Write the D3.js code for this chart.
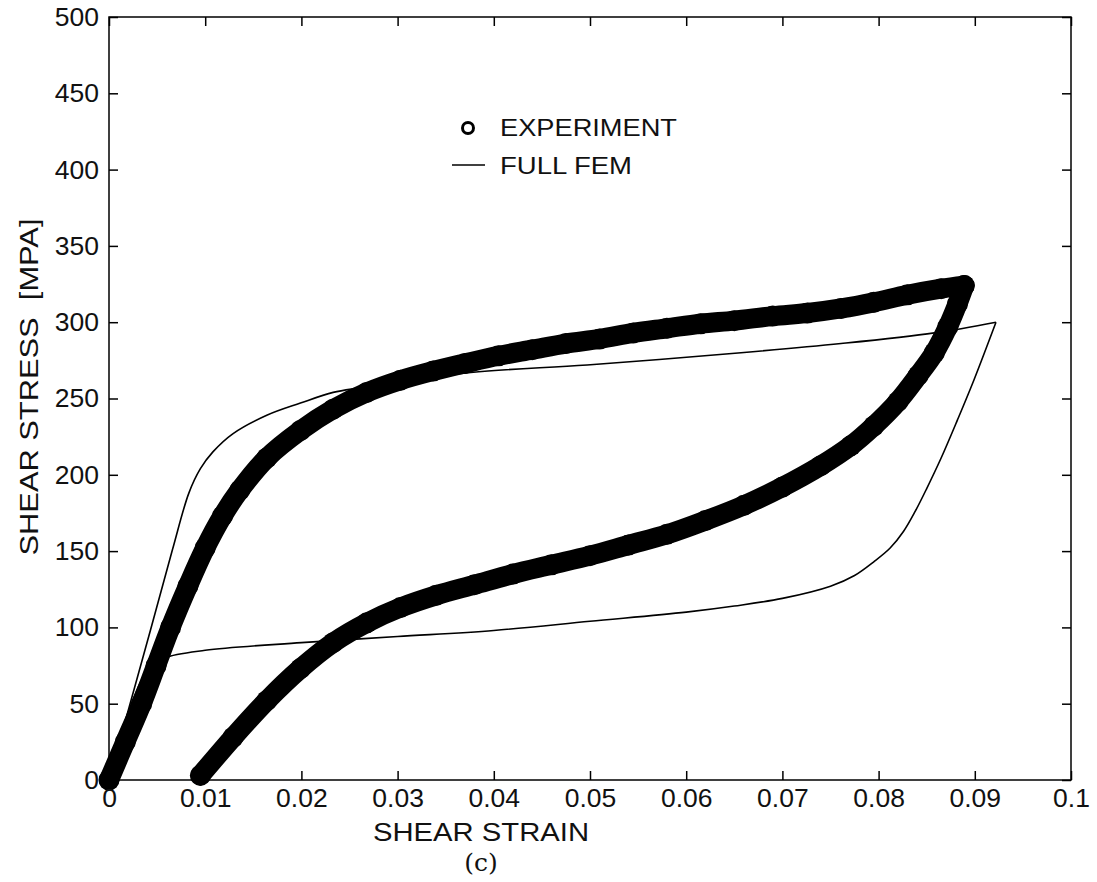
<!DOCTYPE html>
<html>
<head>
<meta charset="utf-8">
<script src="https://cdn.jsdelivr.net/npm/d3@7"></script>
<style>
  html, body { margin: 0; padding: 0; background: #fff; }
  svg { display: block; }
  text { font-family: "Liberation Sans", Arial, Helvetica, sans-serif; fill: #111; }
</style>
</head>
<body>
<svg id="chart" width="1097" height="882"></svg>
<script>
// ---- data ----
const xTicks = [0, 0.01, 0.02, 0.03, 0.04, 0.05, 0.06, 0.07, 0.08, 0.09, 0.1];
const xTickLabels = ["0", "0.01", "0.02", "0.03", "0.04", "0.05", "0.06", "0.07", "0.08", "0.09", "0.1"];
const yTicks = [0, 50, 100, 150, 200, 250, 300, 350, 400, 450, 500];
const yTickLabels = ["0", "50", "100", "150", "200", "250", "300", "350", "400", "450", "500"];

// Experiment: loading branch
const expLoadStrain = [0, 0.0017, 0.0034, 0.0049, 0.0064, 0.0082, 0.0100, 0.0118, 0.0136, 0.0164, 0.0199, 0.0233, 0.0268, 0.0303, 0.0337, 0.0370, 0.0405, 0.0440, 0.0475, 0.0510, 0.0545, 0.0580, 0.0615, 0.0650, 0.0690, 0.0726, 0.0761, 0.0795, 0.0830, 0.0865, 0.0889];
const expLoadStress = [0, 25, 50, 75, 100, 127, 152, 173, 190, 211, 229, 243, 254, 262, 268, 273, 278, 282, 286, 289, 293, 296, 299, 301, 304, 306, 309, 313, 318, 322, 324];
// Experiment: unloading branch
const expUnloadStrain = [0.0889, 0.0882, 0.0872, 0.0858, 0.0841, 0.0820, 0.0795, 0.0771, 0.0740, 0.0700, 0.0660, 0.0620, 0.0580, 0.0540, 0.0500, 0.0460, 0.0420, 0.0380, 0.0340, 0.0303, 0.0268, 0.0233, 0.0199, 0.0164, 0.0129, 0.0095];
const expUnloadStress = [324, 312, 297, 280, 265, 248, 232, 219, 206, 192, 180, 170, 161, 154, 147, 141, 135, 128, 121, 113, 103, 90, 73, 52, 28, 3];

// Full FEM: loading branch
const femLoadStrain = [0, 0.0043, 0.0066, 0.0083, 0.0095, 0.0108, 0.0129, 0.0164, 0.0199, 0.0233, 0.0261, 0.0376, 0.0497, 0.0657, 0.0761, 0.0858, 0.0922];
const femLoadStress = [0, 98, 151, 188, 204, 215, 227, 239, 247, 254, 257, 267, 272, 280, 286, 293, 300];
// Full FEM: unloading branch
const femUnloadStrain = [0.0922, 0.0899, 0.0882, 0.0865, 0.0850, 0.0838, 0.0826, 0.0812, 0.0795, 0.0775, 0.0750, 0.0700, 0.0650, 0.0600, 0.0500, 0.0400, 0.0300, 0.0200, 0.0100, 0.0058, 0.0045, 0.0037, 0.0017, 0];
const femUnloadStress = [300, 262, 236, 211, 191, 176, 163, 152, 143, 134, 127, 119, 114, 110, 104, 98, 94, 90, 85, 80, 74, 69, 39, 0];

const legendLabels = ["EXPERIMENT", "FULL FEM"];

// ---- layout ----
const L = 109, R = 1071, T = 17, B = 780;
const svg = d3.select("#chart");
const x = d3.scaleLinear().domain([0, 0.1]).range([L, R]);
const y = d3.scaleLinear().domain([0, 500]).range([B, T]);

const zip = (a, b) => a.map((s, i) => [s, b[i]]);
const expLoad = zip(expLoadStrain, expLoadStress);
const expUnload = zip(expUnloadStrain, expUnloadStress);
const femLoad = zip(femLoadStrain, femLoadStress);
const femUnload = zip(femUnloadStrain, femUnloadStress);

const line = d3.line().x(d => x(d[0])).y(d => y(d[1])).curve(d3.curveCatmullRom.alpha(0.5));

// experiment: thick band of overlapping markers
[expLoad, expUnload].forEach(pts => {
  svg.append("path").attr("d", line(pts))
    .attr("fill", "none").attr("stroke", "#000").attr("stroke-width", 20)
    .attr("stroke-linejoin", "round").attr("stroke-linecap", "round");
  svg.append("g").selectAll("circle").data(pts).join("circle")
    .attr("cx", d => x(d[0])).attr("cy", d => y(d[1])).attr("r", 10.5).attr("fill", "#000");
});

// FEM line
[femLoad, femUnload].forEach(pts => {
  svg.append("path").attr("d", line(pts))
    .attr("fill", "none").attr("stroke", "#000").attr("stroke-width", 1.6)
    .attr("stroke-linejoin", "miter");
});

// axes
const fs = 26.5;
const gx = svg.append("g").attr("transform", `translate(0,${B})`)
  .call(d3.axisBottom(x).tickValues(xTicks).tickFormat((d, i) => xTickLabels[i]).tickSizeInner(-9).tickSizeOuter(0).tickPadding(8));
const gy = svg.append("g").attr("transform", `translate(${L},0)`)
  .call(d3.axisLeft(y).tickValues(yTicks).tickFormat((d, i) => yTickLabels[i]).tickSizeInner(-9).tickSizeOuter(0).tickPadding(10));
const gt = svg.append("g").attr("transform", `translate(0,${T})`)
  .call(d3.axisTop(x).tickValues(xTicks).tickFormat("").tickSizeInner(-9).tickSizeOuter(0));
const gr = svg.append("g").attr("transform", `translate(${R},0)`)
  .call(d3.axisRight(y).tickValues(yTicks).tickFormat("").tickSizeInner(-9).tickSizeOuter(0));
[gx, gy, gt, gr].forEach(g => {
  g.select(".domain").remove();
  g.selectAll("line").attr("stroke", "#000").attr("stroke-width", 1.5);
  g.selectAll("text").attr("font-size", fs).attr("font-family", '"Liberation Sans", Arial, sans-serif').attr("fill", "#111");
});
svg.append("rect").attr("x", L).attr("y", T).attr("width", R - L).attr("height", B - T)
  .attr("fill", "none").attr("stroke", "#000").attr("stroke-width", 1.5);

// axis titles
svg.append("text").attr("x", 481).attr("y", 841).attr("text-anchor", "middle")
  .attr("font-size", 25).attr("textLength", 216).attr("lengthAdjust", "spacingAndGlyphs")
  .text("SHEAR STRAIN");
svg.append("text").attr("transform", "translate(38,387) rotate(-90)").attr("text-anchor", "middle")
  .attr("font-size", 25).attr("textLength", 337).attr("lengthAdjust", "spacingAndGlyphs")
  .attr("xml:space", "preserve")
  .text("SHEAR STRESS  [MPA]");
svg.append("text").attr("x", 481).attr("y", 871).attr("text-anchor", "middle")
  .style("font-family", '"DejaVu Serif", "Liberation Serif", serif')
  .attr("font-size", 25).text("(c)");

// legend
svg.append("circle").attr("cx", 468).attr("cy", 128).attr("r", 5.5)
  .attr("fill", "none").attr("stroke", "#000").attr("stroke-width", 3);
svg.append("text").attr("x", 500).attr("y", 136).attr("font-size", 23)
  .attr("textLength", 177).attr("lengthAdjust", "spacingAndGlyphs").text(legendLabels[0]);
svg.append("line").attr("x1", 452).attr("x2", 485).attr("y1", 165).attr("y2", 165)
  .attr("stroke", "#000").attr("stroke-width", 1.6);
svg.append("text").attr("x", 500).attr("y", 174).attr("font-size", 23)
  .attr("textLength", 132).attr("lengthAdjust", "spacingAndGlyphs").text(legendLabels[1]);
</script>
</body>
</html>
